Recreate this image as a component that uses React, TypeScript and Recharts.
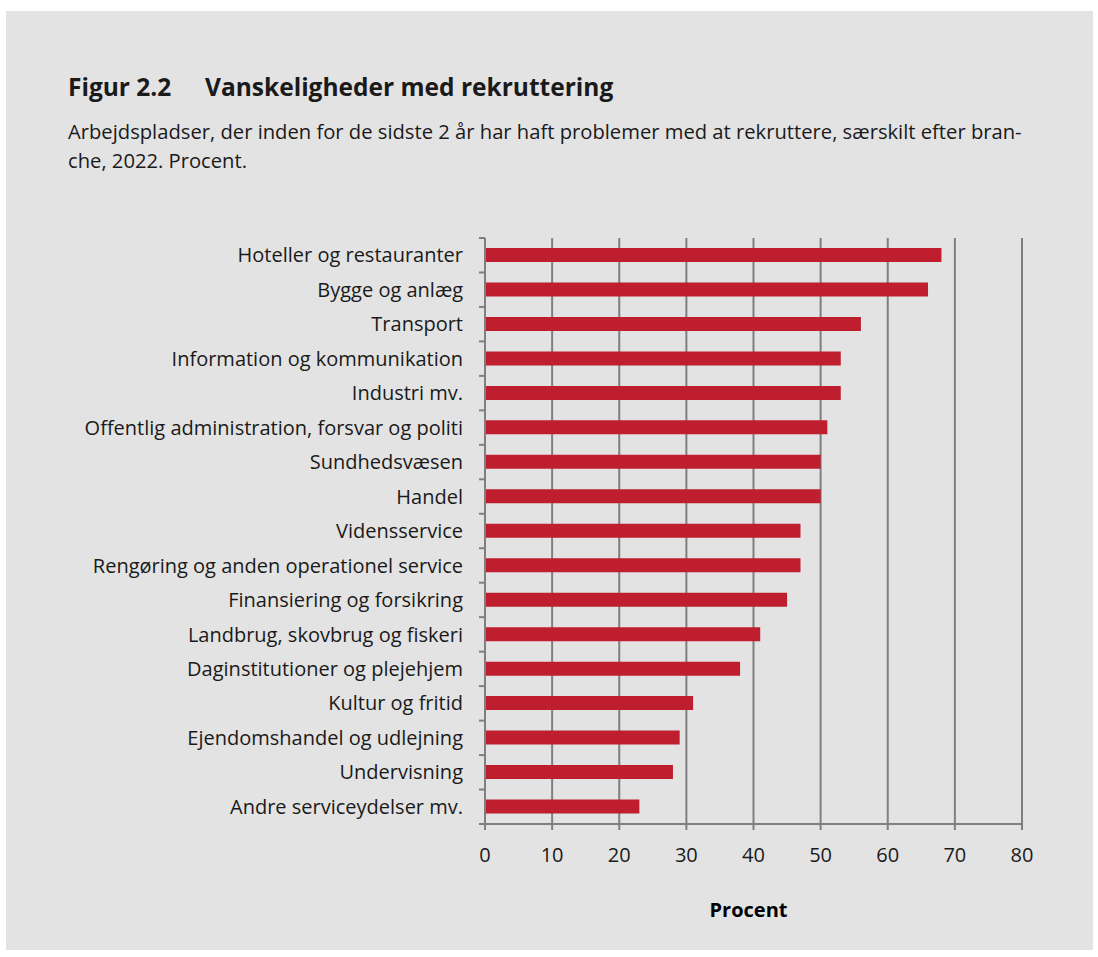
import React from "react";
import {
  BarChart,
  Bar,
  XAxis,
  YAxis,
  CartesianGrid,
  Label,
} from "recharts";

// Branche names, top to bottom as drawn
const categories = [
  "Hoteller og restauranter",
  "Bygge og anlæg",
  "Transport",
  "Information og kommunikation",
  "Industri mv.",
  "Offentlig administration, forsvar og politi",
  "Sundhedsvæsen",
  "Handel",
  "Vidensservice",
  "Rengøring og anden operationel service",
  "Finansiering og forsikring",
  "Landbrug, skovbrug og fiskeri",
  "Daginstitutioner og plejehjem",
  "Kultur og fritid",
  "Ejendomshandel og udlejning",
  "Undervisning",
  "Andre serviceydelser mv.",
];

// Share of workplaces with recruitment problems, percent
const values = [68, 66, 56, 53, 53, 51, 50, 50, 47, 47, 45, 41, 38, 31, 29, 28, 23];

const xTicks = [0, 10, 20, 30, 40, 50, 60, 70, 80];

const chartData = categories.map((name, i) => ({ name, value: values[i] }));

const FONT = "'Open Sans', 'Noto Sans', sans-serif";
const GRID = "#7f7f7f";
const BAR = "#be1e2e";
const TEXT = "#1a1a1a";
const TICK_SIZE = 6;
const TICK_MARGIN = 16;

// category label plus a short tick mark at the band edges (like the original)
const CategoryTick = (props: any) => {
  const { x, y, payload, index } = props;
  const half = payload && payload.offset ? payload.offset : 0;
  const axisX = x + TICK_SIZE + TICK_MARGIN;
  return (
    <g>
      <line
        x1={axisX - TICK_SIZE}
        x2={axisX}
        y1={y - half}
        y2={y - half}
        stroke={GRID}
        strokeWidth={2}
      />
      {index === categories.length - 1 && (
        <line
          x1={axisX - TICK_SIZE}
          x2={axisX}
          y1={y + half}
          y2={y + half}
          stroke={GRID}
          strokeWidth={2}
        />
      )}
      <text
        x={x}
        y={y}
        dy="0.355em"
        textAnchor="end"
        fill={TEXT}
        fontSize={20}
        fontFamily={FONT}
      >
        {payload.value}
      </text>
    </g>
  );
};

export default function App() {
  return (
    <div
      style={{
        position: "absolute",
        left: 0,
        top: 0,
        width: 1098,
        height: 957,
        background: "#ffffff",
        fontFamily: FONT,
        color: TEXT,
      }}
    >
      <div
        style={{
          position: "absolute",
          left: 6,
          top: 11,
          width: 1087,
          height: 939,
          background: "#e3e3e3",
        }}
      />
      <div
        style={{
          position: "absolute",
          left: 68,
          top: 70,
          fontSize: 24.5,
          fontWeight: 700,
          whiteSpace: "nowrap",
        }}
      >
        <span style={{ display: "inline-block", width: 137 }}>Figur 2.2</span>
        <span>Vanskeligheder med rekruttering</span>
      </div>
      <div
        style={{
          position: "absolute",
          left: 68,
          top: 117,
          width: 1000,
          fontSize: 20.2,
          lineHeight: "29px",
          whiteSpace: "nowrap",
        }}
      >
        Arbejdspladser, der inden for de sidste 2 år har haft problemer med at
        rekruttere, særskilt efter bran-
        <br />
        che, 2022. Procent.
      </div>

      <div style={{ position: "absolute", left: 0, top: 200 }}>
        <BarChart
          width={1060}
          height={740}
          data={chartData}
          layout="vertical"
          margin={{ top: 38, right: 38, left: 0, bottom: 21 }}
        >
          <CartesianGrid
            horizontal={false}
            vertical={true}
            stroke={GRID}
            strokeWidth={2}
          />
          <XAxis
            type="number"
            domain={[0, 80]}
            ticks={xTicks}
            interval={0}
            height={95}
            stroke={GRID}
            strokeWidth={2}
            tickSize={6}
            tickMargin={18}
            tick={{ fill: TEXT, fontSize: 20, fontFamily: FONT }}
          >
            <Label
              value="Procent"
              position="insideBottom"
              offset={2}
              dx={-5}
              style={{
                fill: "#000",
                fontSize: 20,
                fontWeight: 700,
                fontFamily: FONT,
              }}
            />
          </XAxis>
          <YAxis
            type="category"
            dataKey="name"
            width={485}
            interval={0}
            stroke={GRID}
            strokeWidth={2}
            tickLine={false}
            tickSize={TICK_SIZE}
            tickMargin={TICK_MARGIN}
            tick={<CategoryTick />}
          />
          <Bar
            dataKey="value"
            fill={BAR}
            barSize={14}
            isAnimationActive={false}
          />
        </BarChart>
      </div>
    </div>
  );
}
